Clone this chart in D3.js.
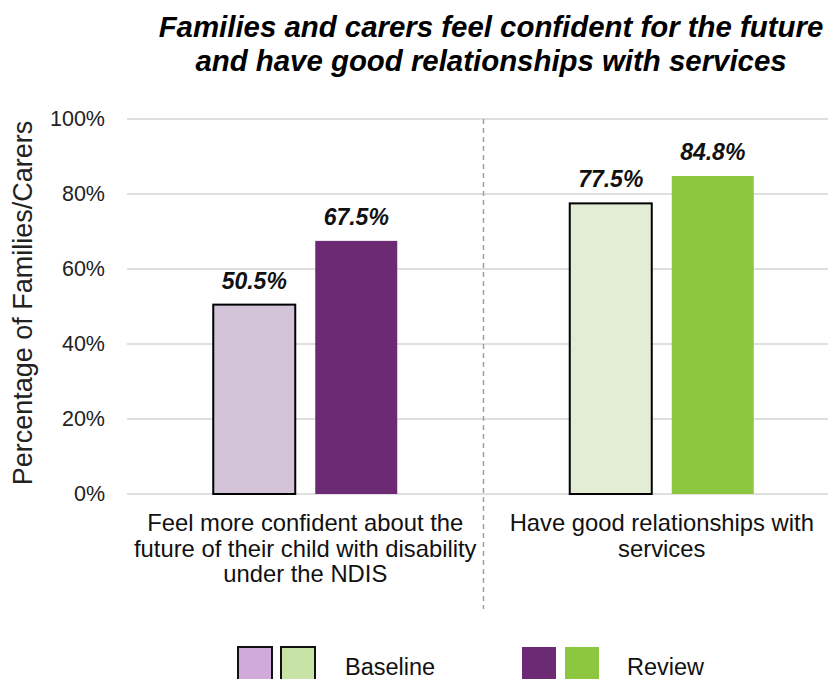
<!DOCTYPE html>
<html>
<head>
<meta charset="utf-8">
<script src="https://cdn.jsdelivr.net/npm/d3@7"></script>
<style>
  html, body { margin: 0; padding: 0; background: #fff; }
  svg { display: block; font-family: "Liberation Sans", Arial, sans-serif; }
</style>
</head>
<body>
<svg id="chart" width="828" height="679"></svg>
<script>
// Survey outcomes: share of families/carers, baseline vs review
const categories = [
  ["Feel more confident about the", "future of their child with disability", "under the NDIS"],
  ["Have good relationships with", "services"]
];
const categoryKeys = ["confident", "relationships"];
const series = ["Baseline", "Review"];
const baselineValues = [50.5, 77.5];
const reviewValues = [67.5, 84.8];
const yTicks = [0, 20, 40, 60, 80, 100];
const titleLines = [
  "Families and carers feel confident for the future",
  "and have good relationships with services"
];
const yTitle = "Percentage of Families/Carers";

// fills per category and series
const barFills = {
  confident: { Baseline: "#d3c4d9", Review: "#6b2a73" },
  relationships: { Baseline: "#e3edd4", Review: "#8dc63f" }
};
const legendFills = {
  Baseline: ["#cfaadb", "#c7e3a5"],
  Review: ["#6b2a73", "#8dc63f"]
};

const rows = categoryKeys.map((k, i) => ({
  key: k,
  lines: categories[i],
  values: [
    { series: "Baseline", value: baselineValues[i] },
    { series: "Review", value: reviewValues[i] }
  ]
}));

const svg = d3.select("#chart");
const plot = { left: 127, right: 840, top: 119, bottom: 494 };

const x0 = d3.scaleBand()
  .domain(categoryKeys)
  .range([plot.left, plot.right])
  .padding(0);
const bw = x0.bandwidth();
const x1 = d3.scaleBand()
  .domain(series)
  .range([bw / 2 - 92, bw / 2 + 92])
  .paddingInner(0.196)
  .paddingOuter(0);
const y = d3.scaleLinear().domain([0, 100]).range([plot.bottom, plot.top]);

// title
svg.append("g")
  .selectAll("text")
  .data(titleLines)
  .join("text")
  .attr("x", 491)
  .attr("y", (d, i) => 37 + i * 34)
  .attr("text-anchor", "middle")
  .style("font-size", "29.4px")
  .style("font-weight", "bold")
  .style("font-style", "italic")
  .attr("fill", "#000")
  .text(d => d);

// horizontal gridlines
svg.append("g")
  .selectAll("line")
  .data(yTicks)
  .join("line")
  .attr("x1", plot.left)
  .attr("x2", 828)
  .attr("y1", d => y(d))
  .attr("y2", d => y(d))
  .attr("stroke", "#d4d4d4")
  .attr("stroke-width", 1.5);

// y axis labels
const yAxis = d3.axisLeft(y)
  .tickValues(yTicks)
  .tickSize(0)
  .tickPadding(22)
  .tickFormat(d => d + "%");
const yg = svg.append("g")
  .attr("transform", `translate(${plot.left},0)`)
  .call(yAxis);
yg.select(".domain").remove();
yg.selectAll("text")
  .style("font-size", "21.5px")
  .style("font-family", "'Liberation Sans', Arial, sans-serif")
  .attr("fill", "#222");

// y axis title
svg.append("text")
  .attr("transform", "translate(32,303) rotate(-90)")
  .attr("text-anchor", "middle")
  .style("font-size", "27px")
  .attr("fill", "#222")
  .text(yTitle);

// dashed separator between categories
svg.append("line")
  .attr("x1", x0(categoryKeys[1]))
  .attr("x2", x0(categoryKeys[1]))
  .attr("y1", plot.top)
  .attr("y2", 609)
  .attr("stroke", "#a0a0a0")
  .attr("stroke-width", 1.5)
  .attr("stroke-dasharray", "5,4");

// bars
const groups = svg.append("g")
  .selectAll("g")
  .data(rows)
  .join("g")
  .attr("transform", d => `translate(${x0(d.key)},0)`);

groups.selectAll("rect")
  .data(d => d.values.map(v => ({ ...v, key: d.key })))
  .join("rect")
  .attr("x", d => x1(d.series))
  .attr("y", d => y(d.value))
  .attr("width", x1.bandwidth())
  .attr("height", d => y(0) - y(d.value))
  .attr("fill", d => barFills[d.key][d.series])
  .attr("stroke", d => d.series === "Baseline" ? "#000" : "none")
  .attr("stroke-width", 2);

// value labels
groups.selectAll("text.val")
  .data(d => d.values)
  .join("text")
  .attr("class", "val")
  .attr("x", d => x1(d.series) + x1.bandwidth() / 2)
  .attr("y", d => y(d.value) - 16)
  .attr("text-anchor", "middle")
  .style("font-size", "23px")
  .style("font-weight", "bold")
  .style("font-style", "italic")
  .attr("fill", "#111")
  .text(d => d.value.toFixed(1) + "%");

// category labels
groups.append("text")
  .attr("text-anchor", "middle")
  .style("font-size", "23.8px")
  .attr("fill", "#111")
  .selectAll("tspan")
  .data(d => d.lines)
  .join("tspan")
  .attr("x", bw / 2)
  .attr("y", (d, i) => 531 + i * 25.5)
  .text(d => d);

// legend
const legendItems = [
  { name: series[0], x: 238, textX: 345, stroke: "#111" },
  { name: series[1], x: 522, textX: 627, stroke: "none" }
];
const lg = svg.append("g")
  .selectAll("g")
  .data(legendItems)
  .join("g");
lg.selectAll("rect")
  .data(d => legendFills[d.name].map((c, i) => ({ c, i, x: d.x, stroke: d.stroke })))
  .join("rect")
  .attr("x", d => d.x + d.i * 43)
  .attr("y", 647)
  .attr("width", 34)
  .attr("height", 36)
  .attr("fill", d => d.c)
  .attr("stroke", d => d.stroke)
  .attr("stroke-width", 2);
lg.append("text")
  .attr("x", d => d.textX)
  .attr("y", 675)
  .style("font-size", "23.5px")
  .attr("fill", "#111")
  .text(d => d.name);
</script>
</body>
</html>
